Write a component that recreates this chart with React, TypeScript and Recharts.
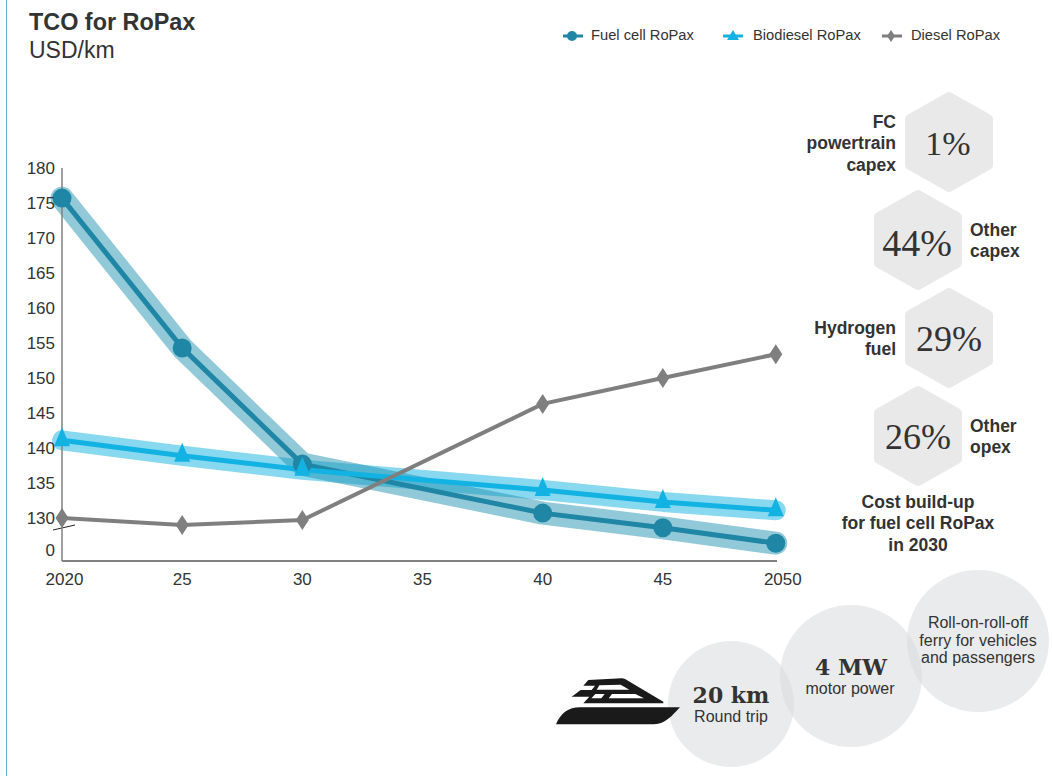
import { Legend, Line, LineChart, XAxis, YAxis } from 'recharts'

const FONT = '"Liberation Sans", Arial, sans-serif'
const SERIF = '"Liberation Serif", serif'
const SLAB = '"DejaVu Serif", serif'
const TEXT = '#333333'
const FUEL = '#1f87a5'
const FUEL_BAND = '#1b8fae'
const BIO = '#12b3e2'
const DIESEL = '#7f7f7f'

// last point sits slightly left of the 2050 label in the original
const years = [2020, 2025, 2030, 2040, 2045, 2049.7]
const fuelCell = [175.7, 154.3, 137.7, 130.7, 128.6, 126.4]
const biodiesel = [141.1, 138.9, 136.9, 134, 132.3, 131.1]
const diesel = [130, 129, 129.7, 146.3, 150, 153.4]

const xTicks = [2020, 2025, 2030, 2035, 2040, 2045, 2049.7]
const xLabels = ['2020', '25', '30', '35', '40', '45', '2050']
const yTicks = [125.3, 130, 135, 140, 145, 150, 155, 160, 165, 170, 175, 180]
const yLabels = ['0', '130', '135', '140', '145', '150', '155', '160', '165', '170', '175', '180']

const shareValues = ['1%', '44%', '29%', '26%']
const shareLabels = [['FC', 'powertrain', 'capex'], ['Other', 'capex'], ['Hydrogen', 'fuel'], ['Other', 'opex']]
const buildUpNote = ['Cost build-up', 'for fuel cell RoPax', 'in 2030']

const data = years.map((year, i) => ({
  year,
  fuelCell: fuelCell[i],
  biodiesel: biodiesel[i],
  diesel: diesel[i],
}))

function FuelDot({ cx, cy }: any) {
  return <circle key={cx} cx={cx} cy={cy} r={9.5} fill={FUEL} />
}

function BioDot({ cx, cy }: any) {
  return <polygon key={cx} points={`${cx},${cy - 13} ${cx + 8},${cy + 6} ${cx - 8},${cy + 6}`} fill={BIO} />
}

function DieselDot({ cx, cy }: any) {
  return <polygon key={cx} points={`${cx},${cy - 10} ${cx + 6.5},${cy} ${cx},${cy + 10} ${cx - 6.5},${cy}`} fill={DIESEL} />
}

function XTick({ x, y, payload, index }: any) {
  const shift = index === xLabels.length - 1 ? 7 : index === 0 ? 2.5 : 0
  return (
    <text x={x + shift} y={y + 10} textAnchor="middle" dominantBaseline="central" fontSize={17} fontFamily={FONT} fill={TEXT}>
      {xLabels[xTicks.indexOf(payload.value)]}
    </text>
  )
}

function YTick({ x, y, payload }: any) {
  return (
    <text x={x} y={y} textAnchor="end" dominantBaseline="central" fontSize={17} fontFamily={FONT} fill={TEXT}>
      {yLabels[yTicks.indexOf(payload.value)]}
    </text>
  )
}

const legendSlots = [563, 723, 882]

function LegendIcon({ name }: { name: string }) {
  const color = name.startsWith('Fuel') ? FUEL : name.startsWith('Bio') ? BIO : DIESEL
  return (
    <svg width={20} height={14} style={{ position: 'absolute', left: 0, top: 1 }}>
      <rect x={0} y={5.5} width={20} height={3} fill={color} />
      {name.startsWith('Fuel') && <circle cx={9} cy={7} r={5} fill={color} />}
      {name.startsWith('Bio') && <polygon points="10,1 16,11 4,11" fill={color} />}
      {name.startsWith('Diesel') && <polygon points="9,1 13,7 9,13 5,7" fill={color} />}
    </svg>
  )
}

function LegendRow({ payload }: any) {
  const items = (payload || []).filter((item: any) => item.type !== 'none')
  return (
    <div style={{ position: 'relative', height: 16, fontFamily: FONT, fontSize: 14.7, color: TEXT }}>
      {items.map((item: any, i: number) => (
        <div key={item.value} style={{ position: 'absolute', left: legendSlots[i], top: 0, whiteSpace: 'nowrap' }}>
          <LegendIcon name={item.value} />
          <span style={{ position: 'absolute', left: i === 2 ? 29 : i === 0 ? 28 : 30, top: -1 }}>{item.value}</span>
        </div>
      ))}
    </div>
  )
}

function Label({ x, y, children, anchor = 'middle', size = 17.5, weight = 'normal', family = FONT }: any) {
  return (
    <text x={x} y={y} textAnchor={anchor} dominantBaseline="central" fontSize={size} fontWeight={weight} fontFamily={family} fill={TEXT}>
      {children}
    </text>
  )
}

function Hexagon({ cx, cy }: { cx: number; cy: number }) {
  const pts = `${cx},${cy - 45} ${cx + 39},${cy - 23} ${cx + 39},${cy + 23} ${cx},${cy + 45} ${cx - 39},${cy + 23} ${cx - 39},${cy - 23}`
  return <polygon points={pts} fill="#e9e9e9" stroke="#e9e9e9" strokeWidth={10} strokeLinejoin="round" />
}

function CostPanel() {
  return (
    <g>
      <Hexagon cx={949} cy={142} />
      <Hexagon cx={918} cy={240} />
      <Hexagon cx={949} cy={338} />
      <Hexagon cx={918} cy={436} />
      <Label x={948} y={143} size={34} family={SERIF}>{shareValues[0]}</Label>
      <Label x={917} y={243} size={38} family={SERIF}>{shareValues[1]}</Label>
      <Label x={949} y={339} size={36} family={SERIF}>{shareValues[2]}</Label>
      <Label x={918} y={437} size={36} family={SERIF}>{shareValues[3]}</Label>
      <Label x={896} y={122} anchor="end" weight="bold">{shareLabels[0][0]}</Label>
      <Label x={896} y={143} anchor="end" weight="bold">{shareLabels[0][1]}</Label>
      <Label x={896} y={165} anchor="end" weight="bold">{shareLabels[0][2]}</Label>
      <Label x={970} y={230} anchor="start" weight="bold">{shareLabels[1][0]}</Label>
      <Label x={970} y={251} anchor="start" weight="bold">{shareLabels[1][1]}</Label>
      <Label x={896} y={328} anchor="end" weight="bold">{shareLabels[2][0]}</Label>
      <Label x={896} y={349} anchor="end" weight="bold">{shareLabels[2][1]}</Label>
      <Label x={970} y={426} anchor="start" weight="bold">{shareLabels[3][0]}</Label>
      <Label x={970} y={447} anchor="start" weight="bold">{shareLabels[3][1]}</Label>
      <Label x={918} y={502} weight="bold">{buildUpNote[0]}</Label>
      <Label x={918} y={523} weight="bold">{buildUpNote[1]}</Label>
      <Label x={918} y={545} weight="bold">{buildUpNote[2]}</Label>
    </g>
  )
}

function Boat() {
  return (
    <g transform="translate(550 670) scale(0.3333)">
      <path d="M18,163 C32,130 55,112 90,112 L390,112 C372,130 360,148 335,158 C325,162 315,163 300,163 Z" fill="#1a1a1a" />
      <path d="M115,30 L215,25 C222,25 228,28 234,32 L340,95 L340,100 L100,100 L118,80 L65,80 L92,60 L125,60 L135,47 L100,47 Z" fill="#1a1a1a" />
      <path d="M148,46 L212,44 L238,59 L140,59 Z M136,72 L164,72 L154,85 L124,85 Z M186,72 L256,72 L282,85 L176,85 Z" fill="#ffffff" />
    </g>
  )
}

function FerryPanel() {
  return (
    <g>
      <circle cx={731} cy={704} r={63} fill="#d8dadc" fillOpacity={0.55} />
      <circle cx={851} cy={676} r={71} fill="#d8dadc" fillOpacity={0.55} />
      <circle cx={978} cy={641} r={71} fill="#d8dadc" fillOpacity={0.55} />
      <Boat />
      <Label x={731} y={695} size={22} weight="bold" family={SLAB}>20 km</Label>
      <Label x={731} y={716} size={16}>Round trip</Label>
      <Label x={851} y={667} size={22} weight="bold" family={SLAB}>4 MW</Label>
      <Label x={850} y={688} size={16}>motor power</Label>
      <Label x={978} y={622} size={16}>Roll-on-roll-off</Label>
      <Label x={978} y={640} size={16}>ferry for vehicles</Label>
      <Label x={978} y={657} size={16}>and passengers</Label>
    </g>
  )
}

export default function App() {
  return (
    <div style={{ position: 'absolute', left: 0, top: 0, width: 1052, height: 776, background: '#fff' }}>
      <div style={{ position: 'absolute', left: 5.5, top: 0, width: 1.5, height: 776, background: '#5fb4cc' }} />
      <LineChart
        width={1052}
        height={776}
        data={data}
        margin={{ top: 168, right: 275, bottom: 185, left: 0 }}
      >
        <XAxis
          dataKey="year"
          type="number"
          domain={[2020, 2049.75]}
          ticks={xTicks}
          interval={0}
          height={30}
          tick={XTick}
          tickLine={false}
          tickSize={0}
          tickMargin={8}
          axisLine={{ stroke: '#808080', strokeWidth: 2 }}
        />
        <YAxis
          type="number"
          domain={[123.86, 180]}
          ticks={yTicks}
          interval={0}
          width={62}
          tick={YTick}
          tickLine={false}
          tickSize={0}
          tickMargin={7}
          axisLine={{ stroke: '#808080', strokeWidth: 1.5 }}
        />
        <Legend
          layout="horizontal"
          verticalAlign="middle"
          align="center"
          itemSorter={null}
          wrapperStyle={{ top: 28, left: 0, width: 1052, bottom: 'auto', margin: 0 }}
          content={LegendRow}
        />
        <Line dataKey="biodiesel" legendType="none" stroke={BIO} strokeOpacity={0.5} strokeWidth={20} strokeLinecap="round" strokeLinejoin="round" dot={false} activeDot={false} isAnimationActive={false} />
        <Line dataKey="fuelCell" legendType="none" stroke={FUEL_BAND} strokeOpacity={0.48} strokeWidth={23} strokeLinecap="round" strokeLinejoin="round" dot={false} activeDot={false} isAnimationActive={false} />
        <Line name="Fuel cell RoPax" dataKey="fuelCell" stroke={FUEL} strokeWidth={5} dot={FuelDot} activeDot={false} isAnimationActive={false} />
        <Line name="Biodiesel RoPax" dataKey="biodiesel" stroke={BIO} strokeWidth={5} dot={BioDot} activeDot={false} isAnimationActive={false} />
        <Line name="Diesel RoPax" dataKey="diesel" stroke={DIESEL} strokeWidth={4} dot={DieselDot} activeDot={false} isAnimationActive={false} />
        <line x1={53} y1={530} x2={75} y2={525} stroke="#222" strokeWidth={1} />
        <Label x={29} y={22} size={23.4} weight="bold" anchor="start">TCO for RoPax</Label>
        <Label x={29} y={50} size={23} anchor="start">USD/km</Label>
        <CostPanel />
        <FerryPanel />
      </LineChart>
    </div>
  )
}
